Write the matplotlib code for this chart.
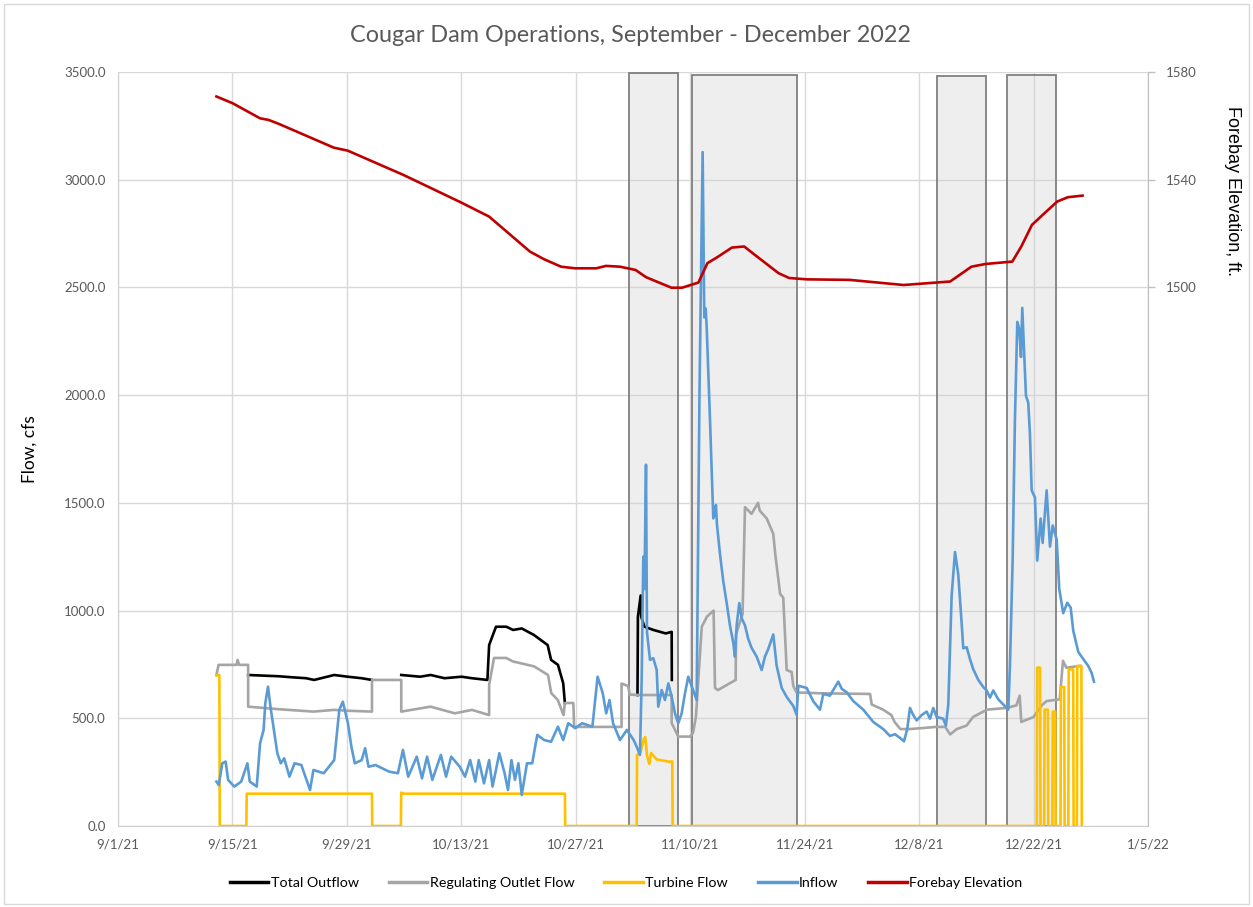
import numpy as np
import pandas as pd
import matplotlib
matplotlib.use("Agg")
import matplotlib.pyplot as plt
import matplotlib.dates as mdates
from matplotlib.patches import Rectangle
from matplotlib.lines import Line2D

# all times are days after 9/1/21
start = pd.Timestamp("2021-09-01")

# Total Outflow (only where it is not hidden under the RO line)
total_t = [15.92, 19.7, 21.4, 23.0, 24.0, 26.45, 28.1, 29.8, 31.07, np.nan,
           34.65, 36.97, 38.24, 39.93, 42.03, 43.29, 45.19, 45.40, 46.24, 47.50, 48.34, 49.39,
           50.87, 52.56, 52.98, 53.82, 54.46, 54.67, np.nan,
           63.55, 63.6, 63.94, 64.0, 64.4, 65.5, 67.0, 67.73, 67.75]
total_q = [701, 695, 690, 686, 678, 701, 693, 686, 678, np.nan,
           701, 693, 701, 686, 693, 686, 678, 840, 925, 925, 910, 917,
           887, 840, 771, 748, 663, 570, np.nan,
           608, 972, 1070, 972, 925, 910, 894, 901, 678]

# Regulating Outlet Flow
ro_t = [12.04, 12.3, 14.5, 14.64, 14.8, 15.92, 15.92, 19.7, 23.9, 26.45, 28.1, 31.07, 31.07,
        34.65, 34.65, 38.24, 41.2, 43.3, 45.4, 45.4, 46.0, 47.5, 48.3, 50.9, 52.6, 53.0,
        53.8, 54.5, 54.67, 55.7, 55.8, 61.6, 61.6, 62.4, 62.6, 63.9, 67.73, 67.73, 68.54,
        69.97, 70.34, 70.7, 71.41, 72.05, 72.86, 73.03, 73.38, 75.56, 75.6, 76.4, 76.7,
        77.5, 78.3, 78.5, 79.35, 80.16, 80.4, 81.0, 81.38, 81.8, 82.4, 82.6, 83.0, 85.9,
        92.0, 92.2, 93.6, 94.6, 95.0, 95.7, 96.9, 100.1, 101.2, 101.8, 102.6, 103.8, 104.6,
        106.3, 108.7, 109.9, 110.3, 110.5, 112.0, 113.0, 113.6, 115.2, 115.6, 116.0, 117.7]
ro_q = [700, 748, 748, 771, 748, 748, 554, 542, 531, 539, 535, 531, 678,
        678, 531, 554, 523, 539, 515, 655, 780, 780, 764, 741, 701, 617,
        585, 515, 571, 571, 460, 460, 661, 650, 610, 608, 608, 478, 415,
        415, 432, 508, 925, 972, 1000, 641, 631, 678, 889, 984, 1480,
        1449, 1500, 1464, 1428, 1356, 1263, 1077, 1060, 724, 715, 651, 620, 616,
        613, 564, 540, 515, 483, 450, 450, 460, 460, 425, 450, 466, 506,
        540, 548, 560, 605, 483, 506, 560, 580, 588, 767, 735, 743]

# Turbine Flow
turb_t = [12.04, 12.4, 12.45, 15.7, 15.75, 31.07, 31.1, 34.6, 34.65, 35.0, 54.67, 54.7,
          63.45, 63.5, 63.9, 64.3, 64.5, 64.7, 65.0, 65.2, 65.9, 67.5, 67.8, 67.85,
          112.4, 112.45, 112.8, 112.85, 113.3, 113.35, 113.75, 113.8, 114.3, 114.35, 114.65,
          114.7, 115.3, 115.35, 115.75, 115.8, 116.25, 116.3, 116.85, 116.9, 117.3, 117.35,
          117.85, 117.9]
turb_q = [700, 700, 0, 0, 150, 150, 0, 0, 155, 150, 150, 0,
          0, 330, 340, 402, 413, 330, 288, 339, 309, 298, 300, 0,
          0, 735, 735, 0, 0, 540, 540, 0, 0, 531, 531,
          0, 0, 645, 645, 0, 0, 727, 727, 0, 0, 743,
          743, 0]

# Inflow
inflow_t = [12.04, 12.33, 12.75, 13.17, 13.47, 14.23, 15.07, 15.83, 16.12, 16.97, 17.38, 17.81,
            18.02, 18.35, 18.65, 19.07, 19.49, 19.91, 20.33, 20.97, 21.60, 22.43, 23.49, 23.91,
            25.17, 26.45, 27.07, 27.50, 28.13, 28.55, 28.97, 29.81, 30.23, 30.65, 31.50, 33.19,
            34.24, 34.86, 35.50, 36.55, 37.19, 37.81, 38.45, 39.50, 40.13, 40.76, 41.81, 42.45,
            43.08, 43.71, 44.13, 44.77, 45.40, 45.82, 46.65, 47.29, 47.71, 48.13, 48.56, 48.98,
            49.39, 50.03, 50.67, 51.29, 52.13, 52.98, 53.82, 54.46, 55.08, 55.93, 56.77, 58.03,
            58.67, 59.30, 59.72, 60.13, 60.56, 61.41, 62.25, 63.08, 63.45, 63.85, 64.06, 64.26,
            64.40, 64.59, 64.71, 65.08, 65.48, 65.90, 66.09, 66.51, 66.91, 67.32, 67.73, 68.13,
            68.54, 68.95, 69.36, 69.76, 70.79, 71.13, 71.52, 71.72, 71.89, 72.01, 72.42, 72.82,
            72.94, 73.15, 73.27, 73.64, 74.04, 74.46, 74.86, 75.27, 75.47, 75.68, 76.0, 76.29,
            76.7, 77.10, 77.52, 78.13, 78.74, 79.14, 79.55, 80.16, 80.57, 81.19, 81.80, 82.61,
            83.02, 83.22, 84.24, 85.05, 85.87, 86.28, 87.09, 88.11, 88.53, 89.14, 89.94, 91.17,
            92.39, 93.61, 94.43, 95.05, 95.66, 96.15, 96.55, 96.88, 97.28, 97.70, 98.31, 98.92,
            99.33, 99.73, 100.15, 100.95, 101.28, 101.57, 101.98, 102.39, 102.79, 103.21, 103.40,
            103.82, 104.22, 104.63, 105.24, 105.85, 106.26, 106.67, 107.07, 107.68, 108.29,
            108.91, 109.11, 109.44, 109.72, 110.01, 110.25, 110.46, 110.62, 110.83, 111.07,
            111.35, 111.56, 111.77, 112.17, 112.45, 112.87, 113.11, 113.60, 114.01, 114.34,
            114.83, 115.14, 115.63, 116.12, 116.54, 116.86, 117.47, 118.08, 118.69, 119.10, 119.39]
inflow_q = [206, 190, 291, 299, 214, 183, 206, 291, 206, 183, 384, 446,
            570, 647, 554, 446, 338, 291, 314, 229, 291, 283, 167, 260,
            245, 306, 539, 577, 477, 368, 291, 306, 361, 275, 283, 252,
            245, 353, 229, 322, 221, 322, 214, 330, 229, 322, 275, 229,
            306, 206, 306, 198, 306, 183, 338, 245, 167, 306, 214, 291,
            144, 291, 291, 423, 399, 391, 461, 399, 477, 454, 477, 461,
            693, 616, 523, 585, 477, 399, 446, 399, 368, 330, 678, 1250,
            1100, 1677, 900, 771, 779, 724, 554, 631, 585, 662, 600, 523,
            477, 523, 616, 693, 585, 2000, 3128, 2361, 2402, 2320, 1885, 1428,
            1440, 1490, 1400, 1263, 1137, 1035, 931, 850, 786, 931, 1035, 965,
            931, 868, 826, 786, 724, 786, 822, 889, 744, 641, 599, 557,
            516, 651, 641, 579, 540, 613, 605, 670, 637, 621, 580, 540,
            483, 450, 418, 426, 409, 393, 450, 548, 515, 490, 515, 531,
            498, 548, 506, 498, 466, 564, 1069, 1272, 1167, 938, 825,
            830, 775, 727, 678, 645, 629, 596, 629, 588, 564,
            540, 743, 1232, 1883, 2340, 2308, 2177, 2405, 2210, 1997,
            1965, 1818, 1558, 1525, 1232, 1427, 1314, 1558, 1297, 1395,
            1330, 1101, 988, 1036, 1014, 906, 808, 775, 743, 711, 670]

# Forebay Elevation (right axis)
elev_t = [12.04, 14.02, 17.38, 18.43, 19.7, 26.4, 28.1, 34.9, 42.0, 45.4, 50.4, 52.1, 54.2,
          55.9, 58.5, 59.7, 61.4, 63.3, 64.6, 67.7, 69.0, 71.0, 72.1, 73.4, 75.1, 76.6, 78.2,
          80.8, 82.1, 84.3, 89.5, 96.1, 101.8, 104.4, 106.1, 109.4, 110.5, 111.8, 113.1, 114.9,
          116.2, 118.0]
elev_ft = [1570.9, 1568.4, 1562.8, 1562.2, 1560.7, 1551.9, 1550.8, 1541.8, 1531.5, 1526.3,
           1513.3, 1510.5, 1507.7, 1507.1, 1507.1, 1508.0, 1507.7, 1506.5, 1503.8, 1499.9,
           1499.9, 1501.8, 1509.0, 1511.4, 1514.8, 1515.2, 1511.4, 1505.3, 1503.5, 1503.0,
           1502.8, 1500.9, 1502.2, 1507.7, 1508.7, 1509.6, 1515.2, 1523.2, 1526.9, 1531.9,
           1533.5, 1534.1]

# shaded event boxes
box_start = [62.46, 70.19, 100.2, 108.76]
box_end = [68.49, 83.07, 106.2, 114.8]
box_top = [3495, 3488, 3483, 3488]

series_names = ["Total Outflow", "Regulating Outlet Flow", "Turbine Flow", "Inflow", "Forebay Elevation"]
series_colors = ["#000000", "#a5a5a5", "#ffc000", "#5b9bd5", "#c00000"]


def to_dates(days):
    return start + pd.to_timedelta(np.array(days, dtype=float), unit="D")


fig = plt.figure(figsize=(12.53, 9.07), dpi=100)
fig.patches.append(Rectangle((0.003, 0.003), 0.994, 0.993, transform=fig.transFigure,
                             fill=False, edgecolor="#d9d9d9", lw=1))
ax = fig.add_axes([118 / 1253, 81 / 907, 1030 / 1253, 754 / 907])
ax2 = ax.twinx()

for s, e, top in zip(box_start, box_end, box_top):
    x0 = mdates.date2num(start + pd.Timedelta(days=s))
    x1 = mdates.date2num(start + pd.Timedelta(days=e))
    ax.add_patch(Rectangle((x0, 0), x1 - x0, top, facecolor="#d0d0d0", alpha=0.35,
                           edgecolor="none", zorder=1))
    ax.add_patch(Rectangle((x0, 0), x1 - x0, top, facecolor="none",
                           edgecolor="#808080", lw=1.3, zorder=1.5))

lw = 1.9
ax.plot(to_dates(total_t), total_q, color=series_colors[0], lw=lw, zorder=3)
ax.plot(to_dates(ro_t), ro_q, color=series_colors[1], lw=lw, zorder=3)
ax.plot(to_dates(turb_t), turb_q, color=series_colors[2], lw=lw, zorder=3)
ax.plot(to_dates(inflow_t), inflow_q, color=series_colors[3], lw=lw, zorder=3)
ax2.plot(to_dates(elev_t), elev_ft, color=series_colors[4], lw=lw)

ax.set_xlim(pd.Timestamp("2021-09-01"), pd.Timestamp("2022-01-05"))
ax.set_ylim(0, 3500)
ax2.set_ylim(1300, 1580)

ticks = pd.date_range("2021-09-01", "2022-01-05", freq="14D")
ax.set_xticks(ticks)
ax.set_xticklabels([f"{d.month}/{d.day}/{d.strftime('%y')}" for d in ticks])
ax.set_yticks(np.arange(0, 3501, 500))
ax.set_yticklabels([f"{v:.1f}" for v in np.arange(0, 3501, 500)])
ax2.set_yticks([1500, 1540, 1580])

for lab in ax.get_xticklabels() + ax.get_yticklabels() + ax2.get_yticklabels():
    lab.set_fontfamily("Lato")
    lab.set_fontsize(9.5)
    lab.set_color("#595959")

ax.tick_params(axis="both", length=0, pad=9)
ax2.tick_params(axis="y", length=5, width=1, color="#bfbfbf", pad=8)

ax.grid(True, color="#d9d9d9", lw=1)
ax.set_axisbelow(True)
for sp in ["top", "right"]:
    ax.spines[sp].set_visible(False)
ax.spines["left"].set_color("#d0d0d0")
ax.spines["bottom"].set_color("#d0d0d0")
for sp in ["top", "left", "bottom"]:
    ax2.spines[sp].set_visible(False)
ax2.spines["right"].set_color("#bfbfbf")

fig.text(630 / 1253, 1 - 35 / 907, "Cougar Dam Operations, September - December 2022",
         ha="center", va="center", fontsize=16.8, family="Lato", color="#595959")
fig.text(30 / 1253, 1 - 449 / 907, "Flow, cfs", rotation=90, ha="center", va="center",
         fontsize=12.5, family="Lato", color="#000000")
fig.text(1232 / 1253, 1 - 191 / 907, "Forebay Elevation, ft.", rotation=-90, ha="center",
         va="center", fontsize=13, family="Liberation Sans", color="#000000")

handles = [Line2D([], [], color=c, lw=2.5) for c in series_colors]
fig.legend(handles, series_names, loc="center", bbox_to_anchor=(626 / 1253, 1 - 883 / 907),
           ncol=5, frameon=False, handlelength=2.7, handletextpad=0.15, columnspacing=2.1,
           prop=dict(family="Lato", size=10.3))

fig.savefig("out.png", dpi=100)
